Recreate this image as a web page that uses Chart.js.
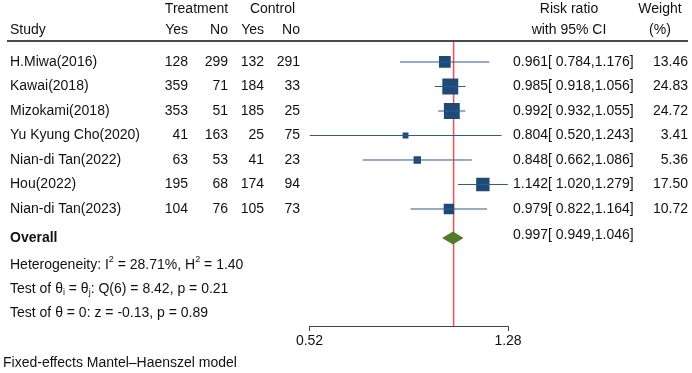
<!DOCTYPE html>
<html>
<head>
<meta charset="utf-8">
<script src="https://cdn.jsdelivr.net/npm/chart.js@4/dist/chart.umd.min.js"></script>
<style>
  html, body { margin: 0; padding: 0; background: #fff; }
  #forest { display: block; }
</style>
</head>
<body>
<canvas id="forest" width="692" height="373"></canvas>
<script>
// study data
var studies = ['H.Miwa(2016)', 'Kawai(2018)', 'Mizokami(2018)', 'Yu Kyung Cho(2020)',
  'Nian-di Tan(2022)', 'Hou(2022)', 'Nian-di Tan(2023)'];
var treatYes = [128, 359, 353, 41, 63, 195, 104];
var treatNo = [299, 71, 51, 163, 53, 68, 76];
var ctrlYes = [132, 184, 185, 25, 41, 174, 105];
var ctrlNo = [291, 33, 25, 75, 23, 94, 73];
var riskRatio = [0.961, 0.985, 0.992, 0.804, 0.848, 1.142, 0.979];
var ciLower = [0.784, 0.918, 0.932, 0.520, 0.662, 1.020, 0.822];
var ciUpper = [1.176, 1.056, 1.055, 1.243, 1.086, 1.279, 1.164];
var weights = [13.46, 24.83, 24.72, 3.41, 5.36, 17.50, 10.72];

var overall = [0.997, 0.949, 1.046]; // estimate, lower, upper
var xTicks = [0.52, 1.28];

var FONT = '"Liberation Sans", Arial, sans-serif';
var OVERALL_ROW = studies.length + 0.18;

function rrText(e, l, u) {
  return e.toFixed(3) + '[ ' + l.toFixed(3) + ',' + u.toFixed(3) + ']';
}

// CI whiskers, one line dataset per study
var ciSets = studies.map(function (s, i) {
  return {
    type: 'line',
    data: [{x: ciLower[i], y: i}, {x: ciUpper[i], y: i}],
    borderColor: '#2d5b8c',
    borderWidth: 1,
    pointRadius: 0,
    fill: false
  };
});

var markerSet = {
  type: 'scatter',
  data: riskRatio.map(function (v, i) { return {x: v, y: i}; }),
  pointStyle: 'rect',
  backgroundColor: '#1f4a78',
  borderWidth: 0,
  pointRadius: weights.map(function (w) { return 3.2 * Math.sqrt(w) / Math.SQRT2; }),
  pointHoverRadius: weights.map(function (w) { return 3.2 * Math.sqrt(w) / Math.SQRT2; })
};

function txt(ctx, s, x, y, align, bold) {
  ctx.font = (bold ? 'bold ' : '') + '14px ' + FONT;
  ctx.textAlign = align || 'left';
  ctx.fillText(s, x, y);
}

// text pieces with superscript / subscript
function rich(ctx, parts, x, y) {
  ctx.textAlign = 'left';
  parts.forEach(function (p) {
    var dy = 0;
    if (p[1] === 'sup') { ctx.font = '9px ' + FONT; dy = -5; }
    else if (p[1] === 'sub') { ctx.font = '9px ' + FONT; dy = 4; }
    else ctx.font = '14px ' + FONT;
    ctx.fillText(p[0], x, y + dy);
    x += ctx.measureText(p[0]).width;
  });
}

var forestPlugin = {
  id: 'forest',
  beforeDatasetsDraw: function (chart) {
    var ctx = chart.ctx, xs = chart.scales.x, area = chart.chartArea;
    var x1 = xs.getPixelForValue(1);
    ctx.save();
    ctx.strokeStyle = '#f04e55';
    ctx.lineWidth = 1.5;
    ctx.beginPath();
    ctx.moveTo(x1, area.top);
    ctx.lineTo(x1, area.bottom);
    ctx.stroke();
    ctx.restore();
  },
  afterDatasetsDraw: function (chart) {
    var ctx = chart.ctx, xs = chart.scales.x, ys = chart.scales.y;
    var yc = ys.getPixelForValue(OVERALL_ROW);
    var h = 6.5;
    ctx.save();
    ctx.fillStyle = '#527a2c';
    ctx.beginPath();
    ctx.moveTo(xs.getPixelForValue(overall[1]), yc);
    ctx.lineTo(xs.getPixelForValue(overall[0]), yc - h);
    ctx.lineTo(xs.getPixelForValue(overall[2]), yc);
    ctx.lineTo(xs.getPixelForValue(overall[0]), yc + h);
    ctx.closePath();
    ctx.fill();
    ctx.restore();
  },
  afterDraw: function (chart) {
    var ctx = chart.ctx, ys = chart.scales.y;
    ctx.save();
    ctx.fillStyle = '#111';
    ctx.textBaseline = 'middle';

    // header
    txt(ctx, 'Treatment', 196.5, 9, 'center');
    txt(ctx, 'Control', 272.5, 9, 'center');
    txt(ctx, 'Risk ratio', 569, 9, 'center');
    txt(ctx, 'Weight', 660, 9, 'center');
    txt(ctx, 'Study', 10, 30);
    txt(ctx, 'Yes', 188, 30, 'right');
    txt(ctx, 'No', 228, 30, 'right');
    txt(ctx, 'Yes', 264, 30, 'right');
    txt(ctx, 'No', 300, 30, 'right');
    txt(ctx, 'with 95% CI', 569, 30, 'center');
    txt(ctx, '(%)', 660, 30, 'center');

    ctx.strokeStyle = '#4a4a4a';
    ctx.lineWidth = 2;
    ctx.beginPath();
    ctx.moveTo(7, 41);
    ctx.lineTo(688, 41);
    ctx.stroke();

    // study rows
    studies.forEach(function (s, i) {
      var y = ys.getPixelForValue(i);
      txt(ctx, s, 10, y);
      txt(ctx, String(treatYes[i]), 188, y, 'right');
      txt(ctx, String(treatNo[i]), 228, y, 'right');
      txt(ctx, String(ctrlYes[i]), 264, y, 'right');
      txt(ctx, String(ctrlNo[i]), 300, y, 'right');
      txt(ctx, rrText(riskRatio[i], ciLower[i], ciUpper[i]), 513, y);
      txt(ctx, weights[i].toFixed(2), 688, y, 'right');
    });

    var yo = ys.getPixelForValue(OVERALL_ROW);
    txt(ctx, 'Overall', 10, yo, 'left', true);
    txt(ctx, rrText(overall[0], overall[1], overall[2]), 513, yo - 3);

    rich(ctx, [['Heterogeneity: I'], ['2', 'sup'], [' = 28.71%, H'], ['2', 'sup'], [' = 1.40']], 10, 265);
    rich(ctx, [['Test of \u03b8'], ['i', 'sub'], [' = \u03b8'], ['j', 'sub'], [': Q(6) = 8.42, p = 0.21']], 10, 289);
    txt(ctx, 'Test of \u03b8 = 0: z = -0.13, p = 0.89', 10, 313);
    txt(ctx, 'Fixed-effects Mantel\u2013Haenszel model', 3, 363);
    ctx.restore();
  }
};

new Chart(document.getElementById('forest'), {
  data: {datasets: ciSets.concat([markerSet])},
  options: {
    responsive: false,
    animation: false,
    devicePixelRatio: 1,
    layout: {padding: {left: 309.5, right: 184, top: 42, bottom: 0}},
    plugins: {legend: {display: false}, tooltip: {enabled: false}},
    scales: {
      x: {
        type: 'logarithmic',
        min: xTicks[0],
        max: xTicks[xTicks.length - 1],
        afterBuildTicks: function (scale) {
          scale.ticks = xTicks.map(function (v) { return {value: v}; });
        },
        afterFit: function (scale) { scale.height = 47; },
        border: {display: true, color: '#444', width: 1},
        grid: {drawOnChartArea: false, drawTicks: true, tickLength: 5, color: '#444'},
        ticks: {
          color: '#111',
          padding: 2,
          maxRotation: 0,
          font: {family: FONT, size: 14},
          callback: function (v) { return Number(v).toFixed(2); }
        }
      },
      y: {
        type: 'linear',
        display: false,
        reverse: true,
        min: -0.816,
        max: 10.776
      }
    }
  },
  plugins: [forestPlugin]
});
</script>
</body>
</html>
